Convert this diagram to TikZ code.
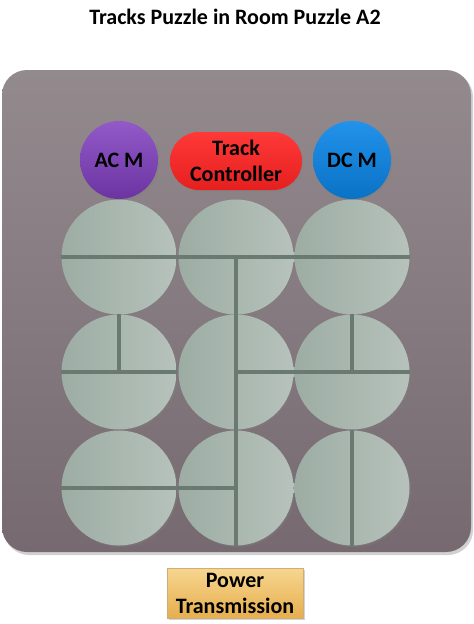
\documentclass[tikz,border=0pt]{standalone}
\usepackage{fontspec}
\setmainfont{Carlito}
\usetikzlibrary{positioning,shadows,calc}
\definecolor{roomtop}{HTML}{938A8E}
\definecolor{roombot}{HTML}{766A70}
\definecolor{discl}{HTML}{9DADA4}
\definecolor{discr}{HTML}{B6C2BB}
\definecolor{trackc}{HTML}{6A7A70}
\definecolor{acmc}{HTML}{7E3DBE}
\definecolor{ctrlc}{HTML}{FF2222}
\definecolor{dcmc}{HTML}{0A86E8}
\definecolor{goldt}{HTML}{F7D690}
\definecolor{goldb}{HTML}{E6AE4E}
\tikzset{shade3/.style={drop shadow={shadow xshift=1.5pt,shadow yshift=-1.5pt,opacity=0.35}}}

\begin{document}
\begin{tikzpicture}[x=1pt,y=-1pt,
  disc/.style={circle,minimum size=115pt,inner sep=0pt,left color=discl,right color=discr,shade3},
  motor/.style={circle,minimum size=78pt,inner sep=0pt,font=\bfseries\fontsize{22}{26}\selectfont,shade3},
  track/.style={draw=trackc,line width=4pt},
  lbl/.style={font=\bfseries\fontsize{22}{26}\selectfont,align=center}]
  \useasboundingbox (0,0) rectangle (474,624);
  \node[font=\bfseries\fontsize{22}{26}\selectfont] (title) at (235,17) {Tracks Puzzle in Room Puzzle A2};

  % room
  \fill[black!18,rounded corners=25pt] (4,72) rectangle (473,555);
  \shade[top color=roomtop,bottom color=roombot,rounded corners=25pt] (2,70) rectangle (471,552);

  \node[motor,top color=acmc!85!white,bottom color=acmc!85!black] (acm) at (119,160) {AC M};
  \node[lbl,rounded corners=29pt,minimum width=132pt,minimum height=58pt,inner sep=0pt,
    top color=ctrlc!90!white,bottom color=ctrlc!90!black,shade3] (ctrl) at (236,161) {Track\\Controller};
  \node[motor,top color=dcmc!90!white,bottom color=dcmc!85!black] (dcm) at (352,160) {DC M};

  \node[disc] (t11) at (119,257) {};
  \node[disc] (t12) at (236,257) {};
  \node[disc] (t13) at (352,257) {};
  \node[disc] (t21) at (119,372) {};
  \node[disc] (t22) at (236,372) {};
  \node[disc] (t23) at (352,372) {};
  \node[disc] (t31) at (119,488) {};
  \node[disc] (t32) at (236,488) {};
  \node[disc] (t33) at (352,488) {};

  % tracks
  \draw[track] (t11.west) -- (t13.east);
  \draw[track] (t12.center) -- (t32.south);
  \draw[track] (t21.north) -- (t21.center);
  \draw[track] (t21.west) -- (t21.east);
  \draw[track] (t22.center) -- (t23.east);
  \draw[track] (t23.north) -- (t23.center);
  \draw[track] (t31.west) -- (t32.center);
  \draw[track] (t33.north) -- (t33.south);

  \node[lbl,draw=goldb!80!black!70,minimum width=136pt,minimum height=50pt,inner sep=0pt,
    top color=goldt,bottom color=goldb,shade3] (power) at (235,593) {Power\\Transmission};
\end{tikzpicture}
\end{document}
